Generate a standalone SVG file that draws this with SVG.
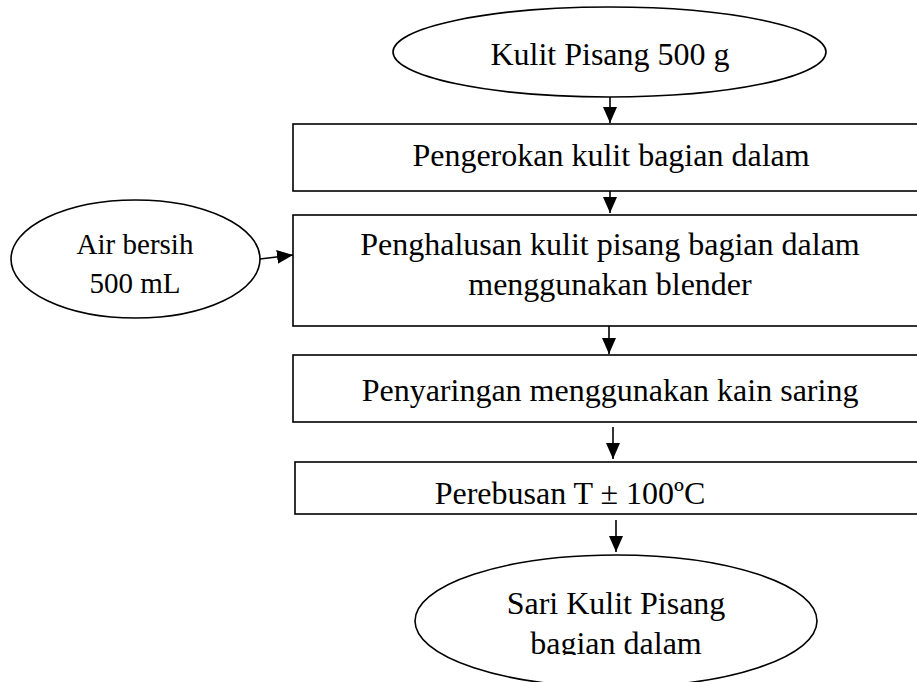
<svg xmlns="http://www.w3.org/2000/svg" width="917" height="682" viewBox="0 0 917 682">
<style>
.shape{fill:#fff;stroke:#000;stroke-width:1.6}
.lbl{font-family:"Liberation Serif","Times New Roman",serif;font-size:32px;fill:#000;text-anchor:middle}
.conn{stroke:#000;stroke-width:1.6;fill:none}
</style>
<defs>
<marker id="ah" markerUnits="userSpaceOnUse" markerWidth="16" markerHeight="14" refX="16" refY="7" orient="auto">
<path d="M0,0 L16,7 L0,14 z" fill="#000"/>
</marker>
<clipPath id="clipAir"><rect x="0" y="190" width="280" height="103"/></clipPath>
<clipPath id="clipSari"><rect x="380" y="550" width="480" height="105"/></clipPath>
</defs>
<rect width="917" height="682" fill="#fff"/>
<g id="n-kulit">
<ellipse class="shape" cx="609.5" cy="52" rx="216.5" ry="45"/>
<text class="lbl" x="610" y="65">Kulit Pisang 500 g</text>
</g>
<g id="n-pengerokan">
<rect class="shape" x="293" y="124" width="640" height="67"/>
<text class="lbl" x="611" y="166">Pengerokan kulit bagian dalam</text>
</g>
<g id="n-air">
<ellipse class="shape" cx="135.5" cy="259" rx="124.5" ry="59"/>
<text class="lbl" x="135" y="254" style="font-size:29px" clip-path="url(#clipAir)">Air bersih<tspan x="135" y="293">500 mL</tspan></text>
</g>
<g id="n-penghalusan">
<rect class="shape" x="293" y="215" width="640" height="111"/>
<text class="lbl" x="610" y="255">Penghalusan kulit pisang bagian dalam</text>
<text class="lbl" x="610" y="295">menggunakan blender</text>
</g>
<g id="n-penyaringan">
<rect class="shape" x="293" y="355" width="640" height="67"/>
<text class="lbl" x="610" y="401">Penyaringan menggunakan kain saring</text>
</g>
<g id="n-perebusan">
<rect class="shape" x="295" y="462" width="640" height="52"/>
<text class="lbl" x="570" y="504">Perebusan T ± 100ºC</text>
</g>
<g id="n-sari">
<ellipse class="shape" cx="616" cy="621" rx="201" ry="66"/>
<text class="lbl" x="616" y="614" clip-path="url(#clipSari)">Sari Kulit Pisang<tspan x="616" y="654">bagian dalam</tspan></text>
</g>
<g id="connectors">
<line class="conn" x1="610" y1="97" x2="610" y2="123" marker-end="url(#ah)"/>
<line class="conn" x1="610" y1="191" x2="610" y2="213" marker-end="url(#ah)"/>
<line class="conn" x1="609" y1="326" x2="609" y2="354" marker-end="url(#ah)"/>
<line class="conn" x1="613" y1="427" x2="613" y2="459" marker-end="url(#ah)"/>
<line class="conn" x1="616" y1="520" x2="616" y2="552" marker-end="url(#ah)"/>
<line class="conn" x1="260" y1="259" x2="293" y2="255" marker-end="url(#ah)"/>
</g>
</svg>
